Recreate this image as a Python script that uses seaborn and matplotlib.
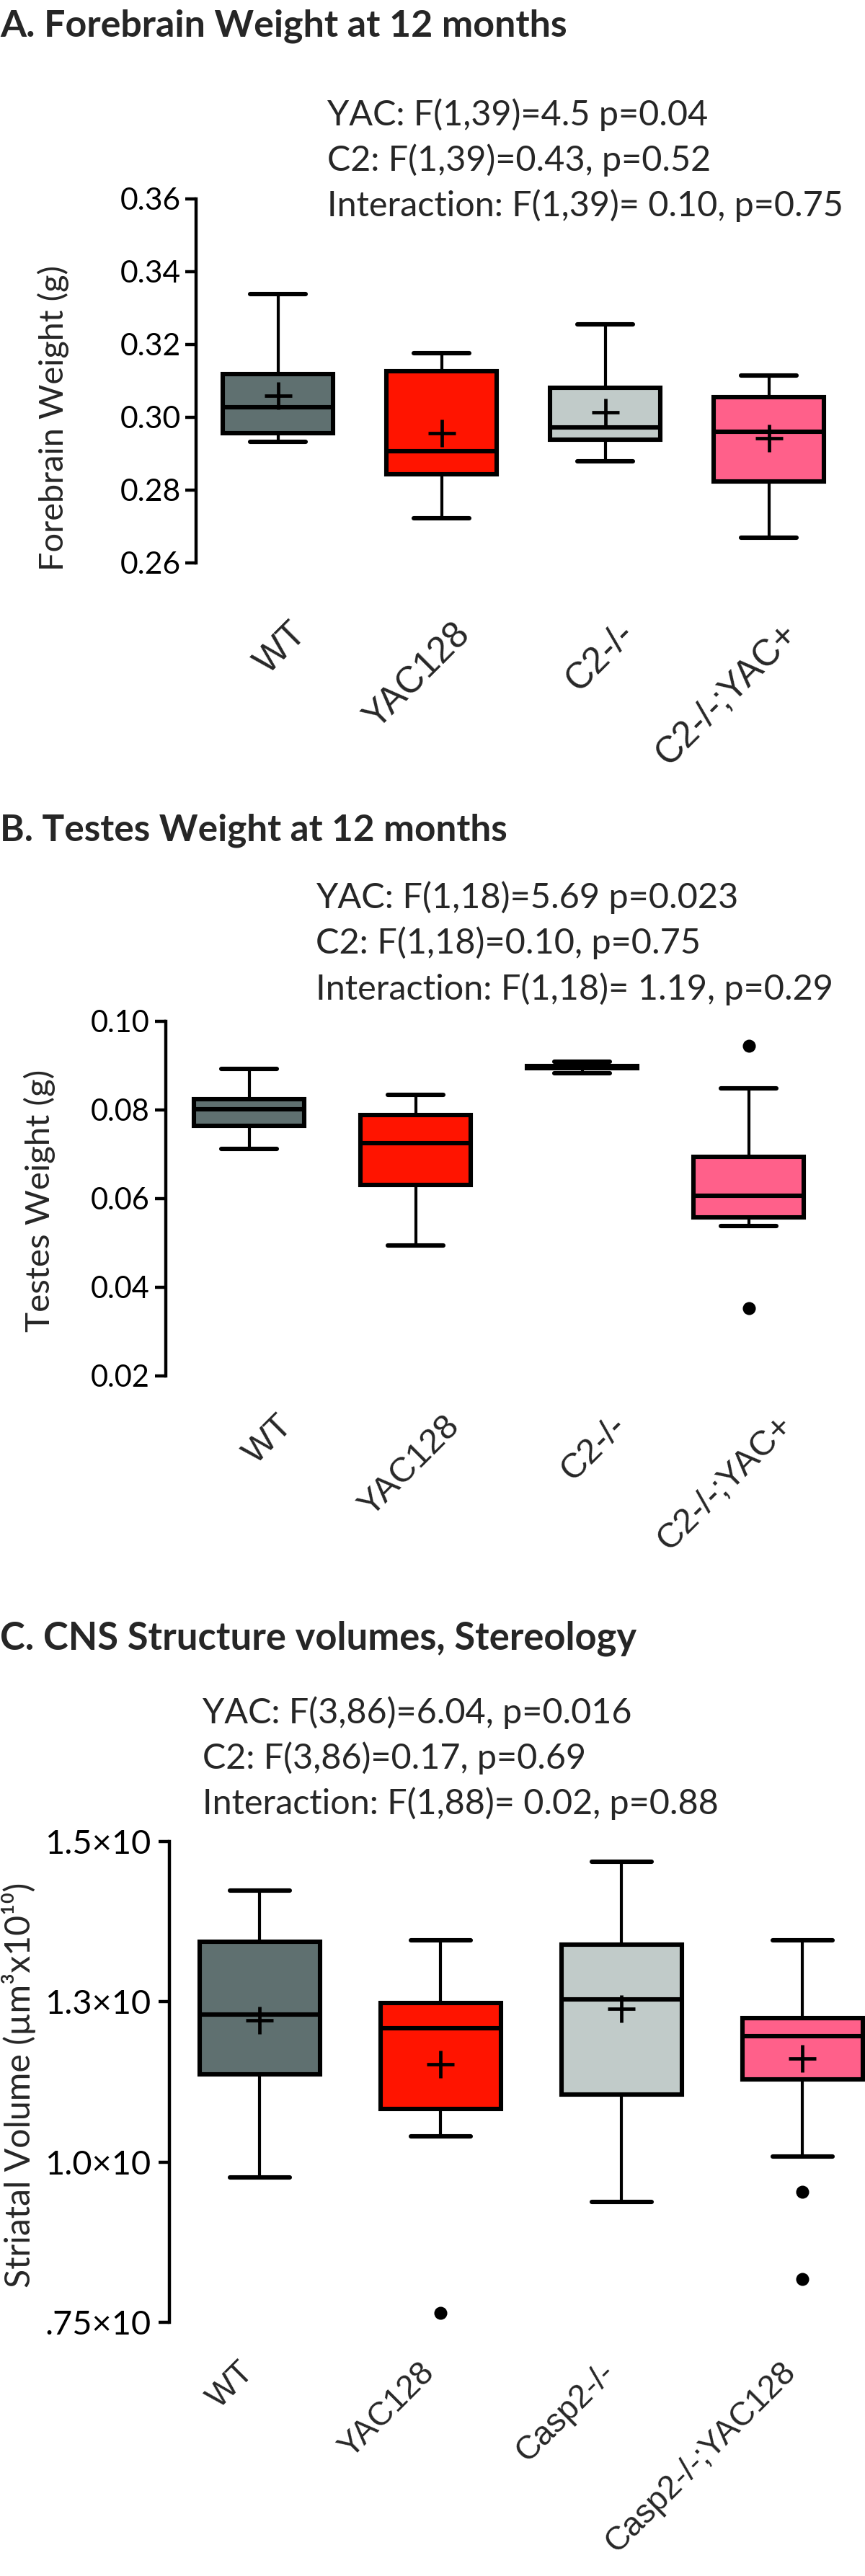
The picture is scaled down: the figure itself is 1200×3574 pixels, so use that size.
import numpy as np
import pandas as pd
import matplotlib
matplotlib.use("Agg")
import matplotlib.pyplot as plt
import seaborn as sns
from matplotlib.transforms import ScaledTranslation
from matplotlib import font_manager

# ---------------- data ----------------
COLORS = ["#5f7070", "#ff1400", "#c1cbc9", "#ff608a"]

# Panel A: forebrain weight (g)
A_groups = ["WT", "YAC128", "C2-/-", "C2-/-;YAC+"]
A_whislo = [0.2932, 0.2721, 0.2879, 0.2668]
A_q1 = [0.2956, 0.2842, 0.2938, 0.2823]
A_median = [0.3027, 0.2906, 0.2971, 0.2959]
A_q3 = [0.3118, 0.3126, 0.3080, 0.3055]
A_whishi = [0.3338, 0.3176, 0.3255, 0.3114]
A_mean = [0.3058, 0.2956, 0.3012, 0.2941]
A_out_groups = []
A_out_vals = []
A_yticks = [0.26, 0.28, 0.30, 0.32, 0.34, 0.36]
A_yticklabels = ["0.26", "0.28", "0.30", "0.32", "0.34", "0.36"]
A_title = "A. Forebrain Weight at 12 months"
A_stats = ["YAC: F(1,39)=4.5 p=0.04",
           "C2: F(1,39)=0.43, p=0.52",
           "Interaction: F(1,39)= 0.10, p=0.75"]
A_ylabel = "Forebrain Weight (g)"

# Panel B: testes weight (g)
B_groups = ["WT", "YAC128", "C2-/-", "C2-/-;YAC+"]
B_whislo = [0.0712, 0.0494, 0.0883, 0.0538]
B_q1 = [0.0764, 0.0630, 0.0893, 0.0558]
B_median = [0.0801, 0.0724, 0.0896, 0.0606]
B_q3 = [0.0824, 0.0788, 0.0899, 0.0693]
B_whishi = [0.0892, 0.0834, 0.0908, 0.0848]
B_mean = []
B_out_groups = ["C2-/-;YAC+", "C2-/-;YAC+"]
B_out_vals = [0.0944, 0.0353]
B_yticks = [0.02, 0.04, 0.06, 0.08, 0.10]
B_yticklabels = ["0.02", "0.04", "0.06", "0.08", "0.10"]
B_title = "B. Testes Weight at 12 months"
B_stats = ["YAC: F(1,18)=5.69 p=0.023",
           "C2: F(1,18)=0.10, p=0.75",
           "Interaction: F(1,18)= 1.19, p=0.29"]
B_ylabel = "Testes Weight (g)"

# Panel C: striatal volume (um^3 x 10^10)
C_groups = ["WT", "YAC128", "Casp2-/-", "Casp2-/-;YAC128"]
C_whislo = [0.976, 1.040, 0.938, 1.009]
C_q1 = [1.137, 1.083, 1.105, 1.129]
C_median = [1.230, 1.209, 1.254, 1.196]
C_q3 = [1.344, 1.248, 1.339, 1.224]
C_whishi = [1.424, 1.346, 1.468, 1.346]
C_mean = [1.221, 1.153, 1.239, 1.161]
C_out_groups = ["YAC128", "Casp2-/-;YAC128", "Casp2-/-;YAC128"]
C_out_vals = [0.765, 0.954, 0.817]
C_yticks = [0.75, 1.0, 1.25, 1.5]
C_yticklabels = [".75\u00d710", "1.0\u00d710", "1.3\u00d710", "1.5\u00d710"]
C_title = "C. CNS Structure volumes, Stereology"
C_stats = ["YAC: F(3,86)=6.04, p=0.016",
           "C2: F(3,86)=0.17, p=0.69",
           "Interaction: F(1,88)= 0.02, p=0.88"]
C_ylabel = "Striatal Volume (\u00b5m\u00b3x10\u00b9\u2070)"

# ---------------- style ----------------
sns.set_style("ticks")
TXT = ["Lato", "DejaVu Sans"]
XLAB = ["Liberation Sans", "DejaVu Sans"]
_names = {f.name for f in font_manager.fontManager.ttflist}
TITLE = (["Liberation Sans Narrow"] if "Liberation Sans Narrow" in _names else []) + TXT
plt.rcParams["font.family"] = TXT

W, H = 1200, 3574
fig = plt.figure(figsize=(W / 100, H / 100), dpi=100)
renderer = fig.canvas.get_renderer()


def measure(s, size, family, weight="normal", rotation=0):
    t = fig.text(0, 0, s, size=size, family=family, weight=weight, rotation=rotation)
    bb = t.get_window_extent(renderer=renderer)
    t.remove()
    return bb.width, bb.height


def fit(s, target, family, weight="normal", rotation=0):
    w, _ = measure(s, 20, family, weight, rotation)
    return 20 * target / w


def rect(l, t, r, b):
    return [l / W, 1 - b / H, (r - l) / W, (b - t) / H]


def fig_text(x, y, s, size, family, weight="normal"):
    fig.text(x / W, 1 - y / H, s, size=size, family=family, weight=weight,
             ha="left", va="baseline")


def panel(cfg):
    ax = fig.add_axes(rect(*cfg["rect"]))
    groups = cfg["groups"]
    rows = []
    for g, a, b, c, d, e in zip(groups, cfg["whislo"], cfg["q1"], cfg["median"],
                                cfg["q3"], cfg["whishi"]):
        for v in (a, b, c, d, e):
            rows.append((g, v))
    df = pd.DataFrame(rows, columns=["group", "value"])
    sns.boxplot(data=df, x="group", y="value", hue="group", order=groups,
                hue_order=groups, palette=COLORS, saturation=1,
                width=cfg["width"], whis=(0, 100), showfliers=False,
                linewidth=4.4, linecolor="black", legend=False, ax=ax,
                boxprops={"edgecolor": "black", "linewidth": 4.4},
                whiskerprops={"linewidth": 3.0, "color": "black"},
                capprops={"linewidth": 4.4, "color": "black"},
                medianprops={"linewidth": 4.4, "color": "black"})
    if len(cfg["mean"]):
        sns.pointplot(x=groups, y=cfg["mean"], order=groups, color="black",
                      marker="+", markersize=27, markeredgewidth=3.4,
                      linestyle="none", errorbar=None, ax=ax, zorder=6)
    if len(cfg["out_vals"]):
        sns.stripplot(x=cfg["out_groups"], y=cfg["out_vals"], order=groups,
                      jitter=False, color="black", size=13, linewidth=0,
                      ax=ax, zorder=6)

    ax.set_xlim(*cfg["xlim"])
    ax.set_ylim(cfg["yticks"][0], cfg["yticks"][-1])
    ax.set_xlabel("")
    ax.set_ylabel("")
    sns.despine(ax=ax, bottom=True)
    ax.spines["left"].set_linewidth(3.2)
    ax.spines["left"].set_color("black")

    # y ticks
    yfs = fit(cfg["yfit"][0], cfg["yfit"][1], TXT)
    ax.set_yticks(cfg["yticks"])
    ax.set_yticklabels(cfg["yticklabels"], family=TXT, size=yfs)
    ax.tick_params(axis="y", direction="out", length=11, width=3.2,
                   pad=cfg["ypad"] * 0.72, colors="black")

    # x tick labels
    xfs = fit("YAC128", cfg["xfit"], XLAB, rotation=45)
    ax.set_xticks(range(len(groups)))
    ax.set_xticklabels(groups, rotation=45, ha="right", va="top",
                       family=XLAB, size=xfs)
    ax.tick_params(axis="x", length=0, pad=cfg["xpad"] * 0.72)
    off = ScaledTranslation(cfg["xdx"] / 100, 0, fig.dpi_scale_trans)
    for lab in ax.get_xticklabels():
        lab.set_transform(lab.get_transform() + off)

    # y label
    lfs = fit(cfg["ylabel"], cfg["ylen"], TXT)
    ax.set_ylabel(cfg["ylabel"], family=TXT, size=lfs)
    ax.yaxis.set_label_coords(*cfg["ylabpos"])

    # title + stats
    tfs = fit(cfg["title"], cfg["title_w"], TITLE, weight="bold")
    fig_text(0, cfg["title_y"], cfg["title"], tfs, TITLE, weight="bold")
    sfs = fit(cfg["stats"][2], cfg["stats_w"], TXT)
    for s, yb in zip(cfg["stats"], cfg["stats_y"]):
        fig_text(cfg["stats_x"], yb, s, sfs, TXT)
    return ax


panel(dict(rect=(272, 275.5, 1180, 780.6), groups=A_groups, whislo=A_whislo,
           q1=A_q1, median=A_median, q3=A_q3, whishi=A_whishi, mean=A_mean,
           out_groups=A_out_groups, out_vals=A_out_vals, width=0.67,
           xlim=(-0.5, 3.5), yticks=A_yticks, yticklabels=A_yticklabels,
           yfit=("0.36", 84), ypad=6, xfit=164, xpad=74, xdx=50,
           ylabel=A_ylabel, ylen=425, ylabpos=(-0.194, 0.397),
           title=A_title, title_w=788, title_y=50,
           stats=A_stats, stats_w=717, stats_x=454, stats_y=(174, 237, 300)))

panel(dict(rect=(230, 1416.5, 1154, 1909), groups=B_groups, whislo=B_whislo,
           q1=B_q1, median=B_median, q3=B_q3, whishi=B_whishi, mean=B_mean,
           out_groups=B_out_groups, out_vals=B_out_vals, width=0.66,
           xlim=(-0.5, 3.5), yticks=B_yticks, yticklabels=B_yticklabels,
           yfit=("0.10", 82), ypad=7, xfit=157, xpad=46, xdx=70,
           ylabel=B_ylabel, ylen=364, ylabpos=(-0.166, 0.493),
           title=B_title, title_w=704, title_y=1167,
           stats=B_stats, stats_w=720, stats_x=438, stats_y=(1260, 1323, 1387)))

panel(dict(rect=(235, 2555, 1200, 3222), groups=C_groups, whislo=C_whislo,
           q1=C_q1, median=C_median, q3=C_q3, whishi=C_whishi, mean=C_mean,
           out_groups=C_out_groups, out_vals=C_out_vals, width=0.665,
           xlim=(-0.5, 3.345), yticks=C_yticks, yticklabels=C_yticklabels,
           yfit=("1.5\u00d710", 147), ypad=10, xfit=148, xpad=47, xdx=0,
           ylabel=C_ylabel, ylen=563, ylabpos=(-0.192, 0.493),
           title=C_title, title_w=884, title_y=2288,
           stats=C_stats, stats_w=718, stats_x=281, stats_y=(2391, 2454, 2517)))

fig.savefig("out.png", dpi=100, facecolor="white")
